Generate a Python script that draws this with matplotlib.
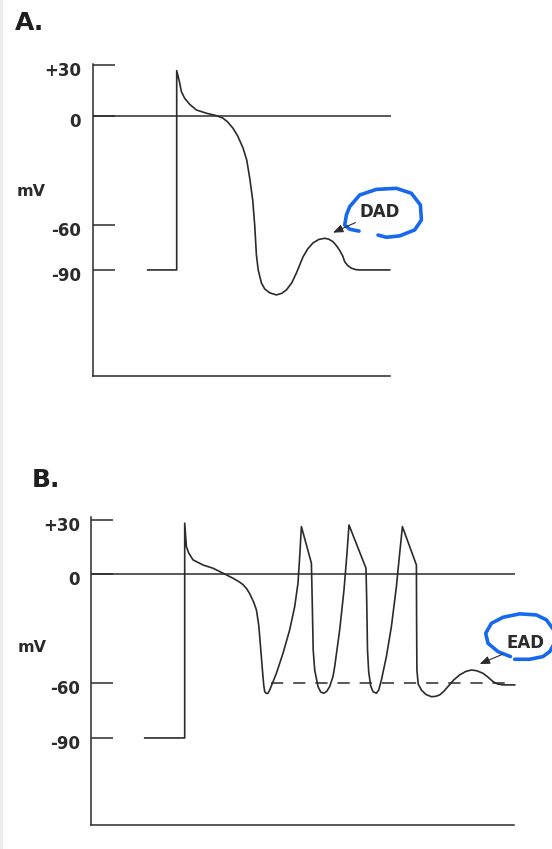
import matplotlib
matplotlib.use("Agg")
import matplotlib.pyplot as plt
from matplotlib.patches import Rectangle
from matplotlib.transforms import ScaledTranslation

W, H = 552, 849
INK = "#2b2b2b"
BLUE = "#1668ee"

# ---- panel A: action potential followed by a delayed afterdepolarization ----
a_time = [55, 84, 84, 85.7, 87, 88.7, 92, 97, 103.7, 113.7, 123.7, 130.3, 135,
          140.3, 145, 150.3, 154, 157, 160, 162, 163.7, 165.5, 168.7, 172, 177,
          183.7, 189, 193.7, 199, 203.7, 210.3, 215, 220.3, 226, 232, 236, 240.3,
          244, 247, 250, 252, 255, 258.7, 263, 267, 297]
a_mv = [-90, -90, 26.5, 22.5, 19.3, 14.2, 10.3, 6.8, 3.5, 1.6, 0.2, -1.3, -3.5,
        -7.2, -11.7, -18.7, -25.7, -36.2, -49.1, -63.7, -81.2, -90, -97.6,
        -101.1, -103.4, -104.6, -103.7, -101.7, -97.6, -91.8, -82.4, -77.7,
        -74.2, -72.2, -71.5, -72.0, -73.5, -76.0, -78.6, -81.8, -85.2, -87.4,
        -89.0, -89.8, -90, -90]
a_ticks = [30, 0, -64, -90]
a_tick_labels = ["+30", "0", "-60", "-90"]
a_dad_tip = (240.3, -68.2)
a_dad_text = (287, -56)
a_circle_t = [266.3, 257, 252, 253.7, 257, 267, 283.7, 303.7, 318.7, 327.7,
              328.7, 322, 307, 293.7, 285.3]
a_circle_mv = [-67.3, -66.2, -63.7, -57.9, -53.0, -46.2, -42.9, -42.3, -45.2,
               -52.0, -60.8, -66.6, -70.1, -70.9, -69.6]

# ---- panel B: prolonged plateau with early afterdepolarizations ----
b_time = [54, 94, 94, 95.7, 98, 102.3, 112.3, 122.3, 132.3, 142.3, 148, 152.3,
          156, 159, 163, 165.7, 168, 169, 170.5, 171.7, 173, 174, 175.5, 177.3,
          179, 185.7, 192.3, 199, 204, 207.3, 209, 210.7, 220.7, 221.5, 222.5,
          224, 227.3, 230, 233, 236, 239, 242.3, 244, 249, 253.3, 256.3, 258.3,
          275.3, 276, 276.8, 278, 280, 282.3, 285.7, 288, 290.7, 295.7, 300.7,
          305.7, 309, 311.7, 325.7, 325.9, 326.2, 327.5, 330.7, 335, 340.7, 345,
          349, 353, 357.3, 363, 369, 375, 380.7, 386, 392.3, 397, 402.3, 407,
          412.3, 424]
b_mv = [-90, -90, 28.2, 15.3, 11.8, 8.0, 5.2, 3.4, 0.7, -2.1, -3.9, -5.6,
        -7.9, -10.6, -15.3, -19.5, -27.8, -34.2, -44.3, -52.5, -60.8, -64.5,
        -65.5, -65.4, -63.6, -54.4, -43.4, -30.5, -17.7, -4.8, 9.8, 26.3, 6.2,
        -14.0, -41.6, -52.6, -61.7, -64.7, -65.4, -64.4, -61.7, -56.2, -50.7,
        -30.5, -8.5, 11.7, 27.2, 3.4, -14.0, -41.6, -53.7, -61.4, -64.5, -65.4,
        -63.6, -58.1, -45.2, -28.7, -6.7, 11.7, 26.3, 5.2, -25.0, -52.6, -60.3,
        -63.6, -66.0, -67.3, -67.1, -66.3, -64.4, -61.7, -58.1, -55.3, -53.4,
        -52.6, -53.0, -54.4, -56.4, -59.0, -60.3, -60.8, -60.8]
b_ticks = [30, 0, -60, -90]
b_tick_labels = ["+30", "0", "-60", "-90"]
b_threshold = -60
b_threshold_span = (180.7, 422)
b_ead_tip = (389, -49.3)
b_ead_text = (435, -38)
b_circle_t = [419.7, 407.3, 397.3, 395, 400.7, 412.3, 429, 445.7, 455.7, 463,
              465, 459, 452.3, 439, 424]
b_circle_mv = [-45.2, -42.5, -37.9, -32.4, -26.9, -23.6, -21.7, -22.3, -25.0,
               -30.5, -36.6, -42.5, -45.2, -46.7, -46.7]

plt.rcParams["font.family"] = ["DejaVu Sans"]
plt.rcParams["font.weight"] = "bold"

fig = plt.figure(figsize=(W / 100, H / 100), dpi=100)
fig.add_artist(Rectangle((0, 0), 3 / W, 1, transform=fig.transFigure,
                         color="#ececec", lw=0))


def panel(box, xlim, ylim, spine_top, bottom_end, ticks, labels, tick_len, pad):
    x0, x1, y0, y1 = box
    ax = fig.add_axes([x0 / W, 1 - y1 / H, (x1 - x0) / W, (y1 - y0) / H])
    ax.set_xlim(*xlim)
    ax.set_ylim(*ylim)
    ax.patch.set_visible(False)
    for side in ["top", "right"]:
        ax.spines[side].set_visible(False)
    for side in ["left", "bottom"]:
        ax.spines[side].set_color(INK)
        ax.spines[side].set_linewidth(1.1)
    ax.spines["left"].set_bounds(ylim[0], spine_top)
    ax.spines["bottom"].set_bounds(0, bottom_end)
    ax.set_xticks([])
    ax.set_yticks(ticks)
    ax.set_yticklabels(labels)
    ax.tick_params(axis="y", direction="in", length=tick_len, width=1.1,
                   color=INK, pad=pad, labelsize=12, labelcolor=INK)
    shift = ScaledTranslation(0, -4 / 100, fig.dpi_scale_trans)
    for lab in ax.get_yticklabels():
        lab.set_transform(lab.get_transform() + shift)
        lab.set_fontweight("bold")
    ax.hlines(0, 0, bottom_end + 1, color=INK, lw=1.1)
    return ax


# panel A
ax_a = panel((92.7, 440, 57.8, 376), (0, 347.3), (-152, 34), 30.4, 297,
             a_ticks, a_tick_labels, 15.5, 8.6)
ax_a.plot(a_time, a_mv, color=INK, lw=1.2, solid_joinstyle="round")
ax_a.annotate("DAD", xy=a_dad_tip, xytext=a_dad_text, ha="center", va="center",
              fontsize=12, fontweight="bold", color=INK,
              arrowprops=dict(arrowstyle="-|>,head_length=0.5,head_width=0.2",
                              color=INK, lw=0.8, relpos=(0, 0),
                              shrinkA=1, shrinkB=0))
ax_a.plot(a_circle_t, a_circle_mv, color=BLUE, lw=2.6, clip_on=False,
          solid_capstyle="round", solid_joinstyle="round")

# panel B
ax_b = panel((90.7, 552, 515, 825), (0, 461.3), (-137.9, 32.7), 31.6, 423,
             b_ticks, b_tick_labels, 16, 7.7)
ax_b.plot(b_time, b_mv, color=INK, lw=1.2, solid_joinstyle="round")
ax_b.hlines(b_threshold, *b_threshold_span, color=INK, lw=1.1,
            linestyles=(0, (8, 6.5)))
ax_b.annotate("EAD", xy=b_ead_tip, xytext=b_ead_text, ha="center", va="center",
              fontsize=12, fontweight="bold", color=INK,
              arrowprops=dict(arrowstyle="-|>,head_length=0.5,head_width=0.2",
                              color=INK, lw=0.8, relpos=(0, 0),
                              shrinkA=1, shrinkB=0))
ax_b.plot(b_circle_t, b_circle_mv, color=BLUE, lw=2.6, clip_on=False,
          solid_capstyle="round", solid_joinstyle="round")

# panel letters and unit labels
fig.text(15 / W, 1 - 30 / H, "A.", fontsize=18, fontweight="bold",
         color="#1e1e1e", va="baseline")
fig.text(32 / W, 1 - 487 / H, "B.", fontsize=18, fontweight="bold",
         color="#1e1e1e", va="baseline")
fig.text(17 / W, 1 - 192 / H, "mV", fontsize=11.5, fontweight="bold",
         color=INK, va="center")
fig.text(18 / W, 1 - 648 / H, "mV", fontsize=11.5, fontweight="bold",
         color=INK, va="center")

fig.savefig("out.png", dpi=100, facecolor="white")
